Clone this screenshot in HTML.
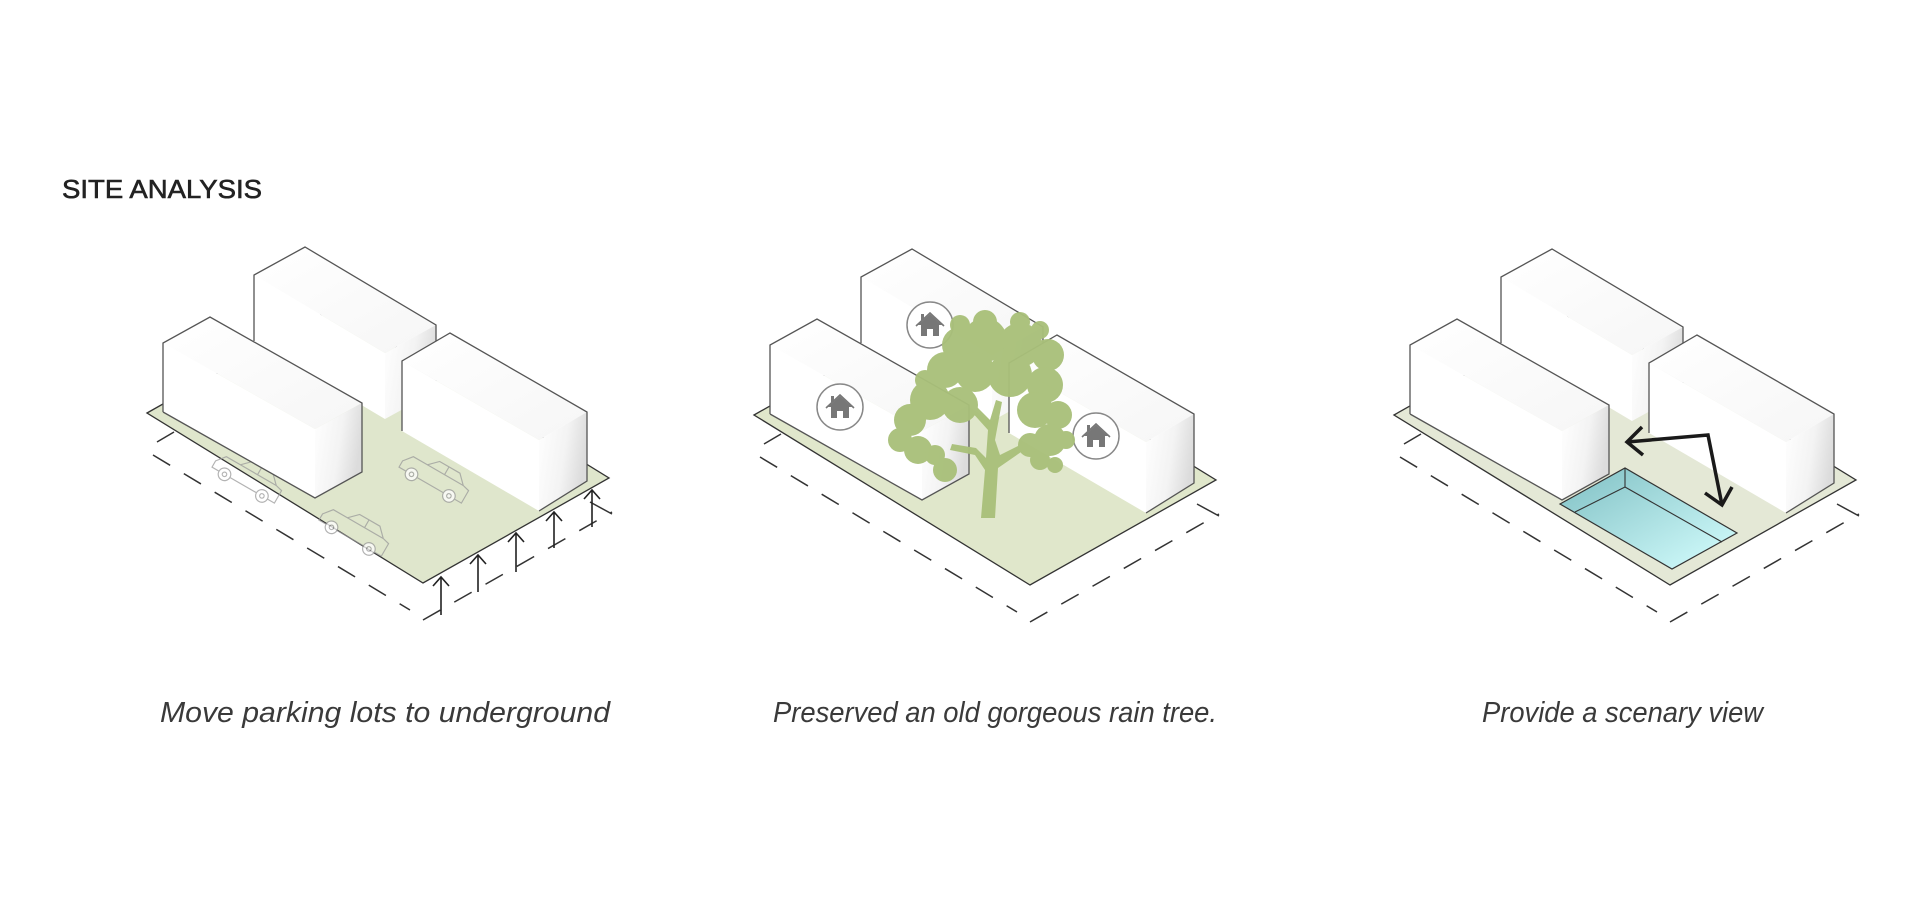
<!DOCTYPE html>
<html><head><meta charset="utf-8"><style>
html,body{margin:0;padding:0;background:#fff;}
svg{display:block;}
</style></head><body>
<svg width="1920" height="900" viewBox="0 0 1920 900" xmlns="http://www.w3.org/2000/svg">
<defs>
<linearGradient id="endg" x1="0" y1="0" x2="1" y2="0.3">
<stop offset="0" stop-color="#ffffff"/><stop offset="0.6" stop-color="#f3f3f3"/><stop offset="1" stop-color="#dcdcdc"/>
</linearGradient>
<linearGradient id="topg" x1="0" y1="0" x2="1" y2="1">
<stop offset="0" stop-color="#ffffff"/><stop offset="1" stop-color="#f6f6f6"/>
</linearGradient>
<linearGradient id="pool" x1="0" y1="0" x2="1" y2="1">
<stop offset="0" stop-color="#7fbfc3"/><stop offset="1" stop-color="#d6ffff"/>
</linearGradient>
<g id="bA">
<polygon points="163,343 210,317 362,403 315,429" fill="url(#topg)"/>
<polygon points="163,343 315,429 315,498 163,412" fill="#fff"/>
<polygon points="315,429 362,403 362,472 315,498" fill="url(#endg)"/>
<polyline points="163,412 163,343 210,317 362,403 362,472 315,498 163,412" fill="none" stroke="#555" stroke-width="1.3"/>
</g>
<g id="bB">
<polygon points="254,275 305,247 436,325 385,353" fill="url(#topg)"/>
<polygon points="254,275 385,353 385,419 254,341" fill="#fff"/>
<polygon points="385,353 436,325 436,391 385,419" fill="url(#endg)"/>
<polyline points="254,341 254,275 305,247 436,325 436,391" fill="none" stroke="#555" stroke-width="1.3"/>
</g>
<g id="bC">
<polygon points="402,361 450,333 587,412 539,440" fill="url(#topg)"/>
<polygon points="402,361 539,440 539,511 402,431" fill="#fff"/>
<polygon points="539,440 587,412 587,481 539,511" fill="url(#endg)"/>
<polyline points="402,431 402,361 450,333 587,412 587,481 539,511" fill="none" stroke="#555" stroke-width="1.3"/>
</g>
<g id="dash" fill="none" stroke="#333" stroke-width="1.5" stroke-dasharray="20,16">
<line x1="153" y1="455" x2="410" y2="610"/>
<line x1="157" y1="442" x2="174" y2="432" stroke-dasharray="none"/>
<line x1="423" y1="620" x2="612" y2="512"/>
<line x1="590" y1="502" x2="612" y2="514" stroke-dasharray="none"/>
</g>
<g id="car" fill="none" stroke="#9a9a9a" stroke-width="1.3" opacity="0.75">
<path d="M-40,-4 L-32,-14 L-14,-14 L-4,-24 L22,-24 L32,-14 L40,-12 L40,4 L-40,4 Z"/>
<path d="M-14,-14 L32,-14 M8,-24 L8,-14"/>
<circle cx="-24" cy="4" r="7" fill="#fff"/><circle cx="24" cy="4" r="7" fill="#fff"/>
<circle cx="-24" cy="4" r="2.5"/><circle cx="24" cy="4" r="2.5"/>
</g>
<g id="house">
<circle r="23" fill="#fff" stroke="#888" stroke-width="1.5"/>
<path d="M-12,0 L0,-11 L12,0 L9,0 L9,11 L3,11 L3,4 L-3,4 L-3,11 L-9,11 L-9,0 Z" fill="#777"/>
<path d="M-14,1 L0,-12 L14,1" fill="none" stroke="#777" stroke-width="1.6"/>
<rect x="-9" y="-11" width="3" height="6" fill="#777"/>
</g>
</defs>

<text x="62" y="198" font-family="Liberation Sans, sans-serif" font-size="26" fill="#222" stroke="#222" stroke-width="0.6" textLength="200" lengthAdjust="spacingAndGlyphs">SITE ANALYSIS</text>

<!-- Diagram 1 -->
<g>
<polygon points="147,413 333,308 609,478 423,583" fill="#dfe6cc" stroke="#333" stroke-width="1.3"/>
<use href="#dash"/>
<g transform="translate(245,482) rotate(30) scale(0.9)"><use href="#car"/></g>
<g transform="translate(352,535) rotate(30) scale(0.9)"><use href="#car"/></g>
<g transform="translate(432,482) rotate(30) scale(0.9)"><use href="#car"/></g>
<use href="#bB"/><use href="#bA"/><use href="#bC"/>
<g fill="none" stroke="#222" stroke-width="1.6">
<path d="M441,615 V577 M433,586 L441,577 L449,586"/>
<path d="M478,592 V555 M470,564 L478,555 L486,564"/>
<path d="M516,572 V533 M508,542 L516,533 L524,542"/>
<path d="M554,548 V512 M546,521 L554,512 L562,521"/>
<path d="M592,527 V490 M584,499 L592,490 L600,499"/>
</g>
</g>

<!-- Diagram 2 -->
<g transform="translate(607,2)">
<polygon points="147,413 333,308 609,478 423,583" fill="#e0e7cb" stroke="#333" stroke-width="1.3"/>
<use href="#dash"/>
<use href="#bB"/><use href="#bA"/><use href="#bC"/>
<use href="#house" x="323" y="323"/>
<use href="#house" x="233" y="405"/>
<use href="#house" x="489" y="434"/>
</g>
<g fill="#a9c07a" opacity="0.96">
<path d="M981,518 L985,470 L975,455 L950,450 L952,444 L976,448 L986,458 L988,430 L970,410 L975,405 L990,420 L996,400 L1002,402 L995,440 L1000,455 L1020,445 L1024,450 L998,468 L995,518 Z"/>
<circle cx="985" cy="340" r="22"/><circle cx="960" cy="345" r="18"/><circle cx="1020" cy="345" r="22"/>
<circle cx="1048" cy="355" r="16"/><circle cx="945" cy="370" r="18"/><circle cx="975" cy="372" r="20"/>
<circle cx="1010" cy="375" r="22"/><circle cx="1045" cy="385" r="18"/><circle cx="930" cy="400" r="20"/>
<circle cx="960" cy="405" r="18"/><circle cx="1035" cy="410" r="18"/><circle cx="1058" cy="415" r="14"/>
<circle cx="910" cy="420" r="16"/><circle cx="900" cy="440" r="12"/><circle cx="918" cy="450" r="14"/>
<circle cx="1050" cy="440" r="16"/><circle cx="1066" cy="440" r="9"/><circle cx="1030" cy="445" r="12"/>
<circle cx="945" cy="470" r="12"/><circle cx="935" cy="455" r="10"/><circle cx="960" cy="325" r="10"/>
<circle cx="985" cy="322" r="12"/><circle cx="1020" cy="322" r="10"/><circle cx="1040" cy="330" r="9"/>
<circle cx="1040" cy="460" r="10"/><circle cx="1055" cy="465" r="8"/><circle cx="925" cy="380" r="10"/>
</g>
<text x="773" y="722" font-family="Liberation Sans, sans-serif" font-size="29" font-style="italic" fill="#3a3a3a" textLength="444" lengthAdjust="spacingAndGlyphs">Preserved an old gorgeous rain tree.</text>

<!-- Diagram 3 -->
<g transform="translate(1247,2)">
<polygon points="147,413 333,308 609,478 423,583" fill="#e4e8d6" stroke="#333" stroke-width="1.3"/>
<use href="#dash"/>
<use href="#bB"/><use href="#bA"/><use href="#bC"/>
</g>
<polygon points="1560,504 1625,468 1737,533 1672,569" fill="url(#pool)" stroke="#333" stroke-width="1.2"/>
<polyline points="1575,512 1625,487 1722,542" fill="none" stroke="#333" stroke-width="1.1"/>
<line x1="1625" y1="468" x2="1625" y2="487" stroke="#333" stroke-width="1.1"/>
<g fill="none" stroke="#1a1a1a" stroke-width="3.5" stroke-linejoin="miter">
<polyline points="1627,442 1708,435 1722,505"/>
<polyline points="1642,427 1627,442 1643,455"/>
<polyline points="1705,493 1722,505 1732,487"/>
</g>

<text x="160" y="722" font-family="Liberation Sans, sans-serif" font-size="29" font-style="italic" fill="#3a3a3a" textLength="450" lengthAdjust="spacingAndGlyphs">Move parking lots to underground</text>
<text x="1482" y="722" font-family="Liberation Sans, sans-serif" font-size="29" font-style="italic" fill="#3a3a3a" textLength="281" lengthAdjust="spacingAndGlyphs">Provide a scenary view</text>
</svg>
</body></html>
